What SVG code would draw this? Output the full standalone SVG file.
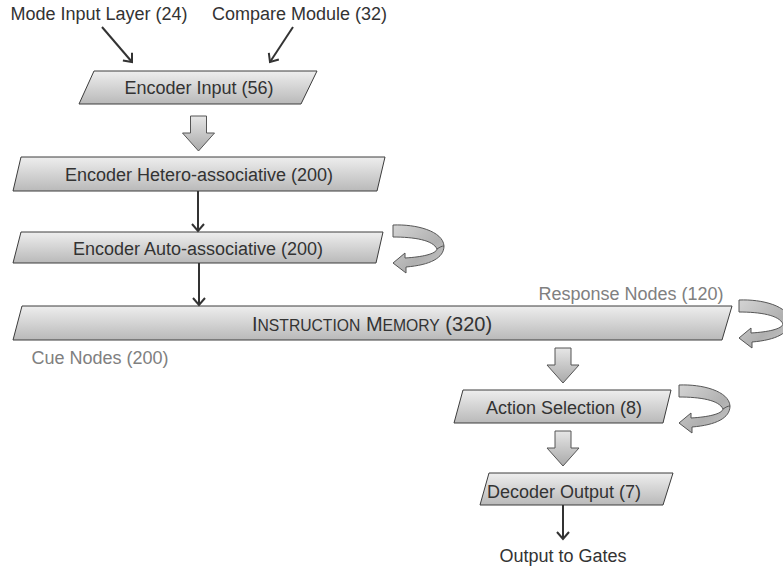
<svg xmlns="http://www.w3.org/2000/svg" width="783" height="569" viewBox="0 0 783 569">
  <defs>
    <linearGradient id="boxFill" x1="0" y1="0" x2="0" y2="1">
      <stop offset="0" stop-color="#eeeeee"/>
      <stop offset="1" stop-color="#b9b9b9"/>
    </linearGradient>
    <linearGradient id="blockFill" x1="0" y1="0" x2="0" y2="1">
      <stop offset="0" stop-color="#e6e6e6"/>
      <stop offset="1" stop-color="#a9a9a9"/>
    </linearGradient>
    <linearGradient id="curlFill" x1="0" y1="0" x2="1" y2="1">
      <stop offset="0" stop-color="#d4d4d4"/>
      <stop offset="0.6" stop-color="#b0b0b0"/>
      <stop offset="1" stop-color="#c8c8c8"/>
    </linearGradient>
    <marker id="tip" viewBox="-8 -7 10 14" refX="0" refY="0" markerWidth="10" markerHeight="14" markerUnits="userSpaceOnUse" orient="auto">
      <path d="M-7,-6 L0,0 L-7,6" fill="none" stroke="#333333" stroke-width="2"/>
    </marker>
    <!-- curled self-loop arrow, local 52x49 box -->
    <g id="curl">
      <path d="M1,1 C24,0 51,7 52,22 C52,34 38,41 14,43 L14,49 L1,39 L13,29 L13,34 C30,33 44,30 45,25 C41,16 22,13 1,13 Z" fill="url(#curlFill)" stroke="#555555" stroke-width="1"/>
      <path d="M45,25 C48,23 50,22 52,22" fill="none" stroke="#555555" stroke-width="1"/>
    </g>
  </defs>
  <style>
    .node { fill: url(#boxFill); stroke: #3c3c3c; stroke-width: 1; }
    .block { fill: url(#blockFill); stroke: #555555; stroke-width: 1; }
    .label { font-family: "Liberation Sans", Arial, sans-serif; font-size: 18px; fill: #333333; }
    .gray { font-family: "Liberation Sans", Arial, sans-serif; font-size: 18px; fill: #808080; }
    .wire { fill: none; stroke: #333333; stroke-width: 2; marker-end: url(#tip); }
  </style>

  <!-- external inputs -->
  <text class="label" x="99" y="19.5" text-anchor="middle">Mode Input Layer (24)</text>
  <text class="label" x="299.5" y="19.5" text-anchor="middle">Compare Module (32)</text>

  <g id="encoder-input">
    <polygon class="node" points="94,71 317,71 301,104 79,104"/>
    <text class="label" x="199" y="94" text-anchor="middle">Encoder Input (56)</text>
  </g>

  <g id="encoder-hetero">
    <polygon class="node" points="21,157 385,157 377,191 13,191"/>
    <text class="label" x="199" y="181" text-anchor="middle">Encoder Hetero-associative (200)</text>
  </g>

  <g id="encoder-auto">
    <polygon class="node" points="21,232 383,232 376,263 13,263"/>
    <text class="label" x="198" y="255" text-anchor="middle">Encoder Auto-associative (200)</text>
  </g>

  <g id="instruction-memory">
    <polygon class="node" points="22,306 732,306 722,340 13,340"/>
    <text class="label" x="372" y="330.5" text-anchor="middle" font-size="20"><tspan font-size="20">I</tspan><tspan font-size="15.7">NSTRUCTION</tspan><tspan font-size="20"> M</tspan><tspan font-size="15.7">EMORY</tspan><tspan font-size="20"> (320)</tspan></text>
    <text class="gray" x="631" y="299.5" text-anchor="middle">Response Nodes (120)</text>
    <text class="gray" x="100" y="364" text-anchor="middle">Cue Nodes (200)</text>
  </g>

  <g id="action-selection">
    <polygon class="node" points="463,390 671,390 663,423 454,423"/>
    <text class="label" x="564" y="414" text-anchor="middle">Action Selection (8)</text>
  </g>

  <g id="decoder-output">
    <polygon class="node" points="489,473 673,473 663,505 480,505"/>
    <text class="label" x="564" y="497.5" text-anchor="middle">Decoder Output (7)</text>
  </g>

  <text class="label" x="563" y="561.5" text-anchor="middle">Output to Gates</text>

  <g id="connectors">
    <line class="wire" x1="102" y1="27" x2="132" y2="62"/>
    <line class="wire" x1="293" y1="27" x2="270" y2="62"/>
    <line class="wire" x1="198" y1="191" x2="198" y2="231"/>
    <line class="wire" x1="199" y1="263" x2="199" y2="305"/>
    <line class="wire" x1="563" y1="505" x2="563" y2="539"/>
    <!-- block arrows -->
    <path class="block" d="M190.5,116 L206.5,116 L206.5,133 L214.5,133 L198.5,151 L182.5,133 L190.5,133 Z"/>
    <path class="block" d="M555,348 L571,348 L571,365 L579,365 L563,383 L547,365 L555,365 Z"/>
    <path class="block" d="M555,431 L571,431 L571,448 L579,448 L563,466 L547,448 L555,448 Z"/>
    <!-- recurrent loops -->
    <use href="#curl" x="392" y="224"/>
    <use href="#curl" x="738" y="299"/>
    <use href="#curl" x="678" y="384"/>
  </g>
</svg>
